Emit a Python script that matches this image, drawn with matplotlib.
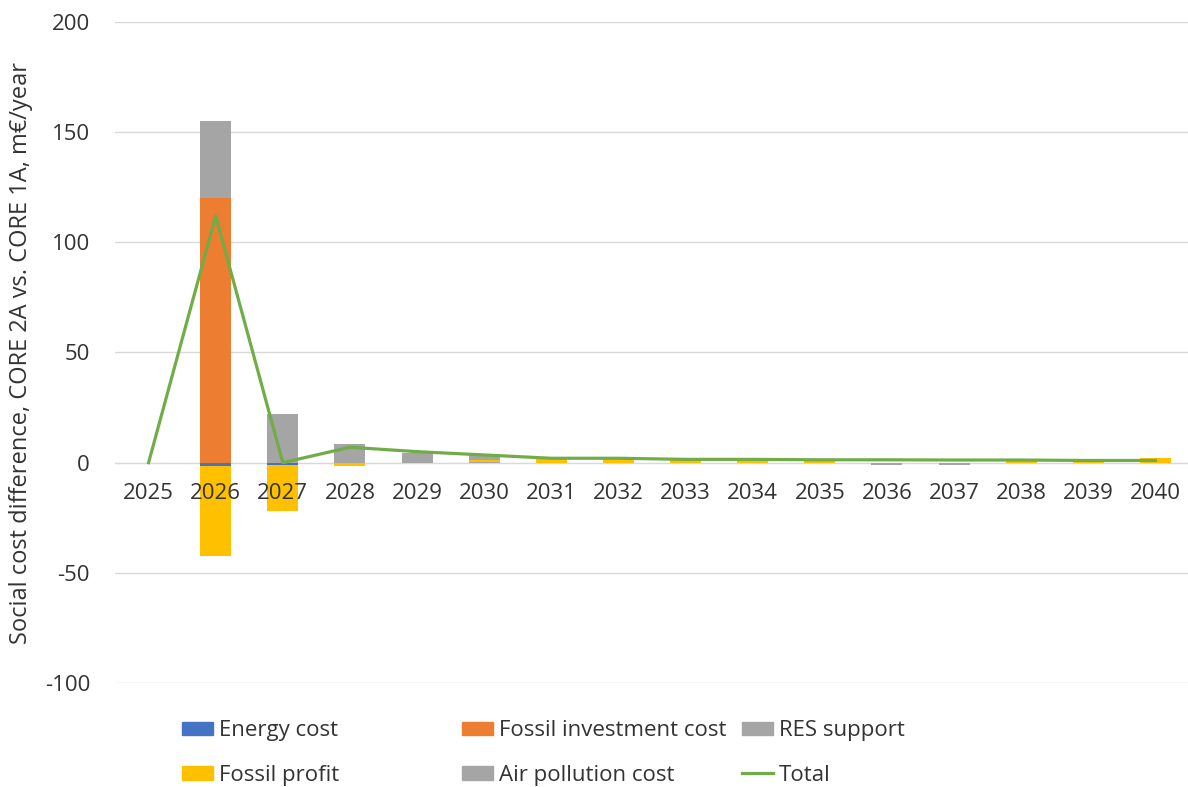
import matplotlib.pyplot as plt
import numpy as np
from matplotlib.patches import Patch
from matplotlib.lines import Line2D

plt.rcParams['font.family'] = ['Open Sans', 'DejaVu Sans']
plt.rcParams['axes.unicode_minus'] = False

years = ['2025', '2026', '2027', '2028', '2029', '2030', '2031', '2032',
         '2033', '2034', '2035', '2036', '2037', '2038', '2039', '2040']

energy_cost = [0, -1.5, -1.0, 0, 0, 0, 0, 0, 0, 0, 0, 0, 0, 0, 0, 0]
fossil_invest = [0, 120, 0, 0, 0, 0, 0, 0, 0, 0, 0, 0, 0, 0, 0, 0]
res_support = [0, 5, 2, 1, 0.5, 0.3, 0, 0, 0, 0, 0, 0, 0, 0, 0, 0]
fossil_profit = [0, -41, -21, -1.5, 0, 0.8, 1.5, 1.5, 1.2, 1.0, 1.0, 0, 0, 0.8, 0.8, 2.0]
air_pollution = [0, 30, 20, 7.5, 4, 2.5, 0, 0, 0, 0, 0, -1.0, -1.0, 0, 0, 0]
total = [0, 112, 0, 7, 5, 3.5, 2, 2, 1.5, 1.5, 1.3, 1.3, 1.2, 1.2, 1.0, 1.0]

series = [
    ('Energy cost', energy_cost, '#4472c4'),
    ('Fossil investment cost', fossil_invest, '#ed7d31'),
    ('RES support', res_support, '#a5a5a5'),
    ('Fossil profit', fossil_profit, '#ffc000'),
    ('Air pollution cost', air_pollution, '#a5a5a5'),
]

fig = plt.figure(figsize=(11.88, 7.87), dpi=100)
ax = fig.add_axes([115 / 1188, (787 - 683) / 787, 1074 / 1188, 661 / 787])

x = np.arange(len(years))
pos_base = np.zeros(len(years))
neg_base = np.zeros(len(years))
for name, vals, col in series:
    v = np.array(vals, dtype=float)
    bottom = np.where(v >= 0, pos_base, neg_base)
    ax.bar(x, v, 0.46, bottom=bottom, color=col, zorder=2)
    pos_base += np.where(v > 0, v, 0)
    neg_base += np.where(v < 0, v, 0)

ax.plot(x, total, color='#70ad47', lw=2.3, zorder=3)

ax.set_xlim(-0.5, len(years) - 0.5)
ax.set_ylim(-100, 200)
ax.set_yticks(np.arange(-100, 201, 50))
ax.grid(axis='y', color='#d9d9d9', lw=1)
ax.set_axisbelow(True)
ax.xaxis.set_zorder(4)  # year labels sit on top of the bars
ax.set_xticks(x)
ax.set_xticklabels(years)

for s in ['top', 'right', 'left']:
    ax.spines[s].set_visible(False)
ax.spines['bottom'].set_position(('data', 0))
ax.spines['bottom'].set_color('#d9d9d9')
ax.spines['bottom'].set_zorder(1)

ax.tick_params(axis='x', length=0, pad=15, labelsize=16, labelcolor='#333333')
ax.tick_params(axis='y', length=0, pad=18, labelsize=16, labelcolor='#333333')

ax.set_ylabel('Social cost difference, CORE 2A vs. CORE 1A, m€/year',
              fontsize=17, color='#333333')
ax.yaxis.set_label_coords(-0.076, 0.5)

# legend laid out as three columns of two entries
columns = [
    [Patch(color='#4472c4', label='Energy cost'),
     Patch(color='#ffc000', label='Fossil profit')],
    [Patch(color='#ed7d31', label='Fossil investment cost'),
     Patch(color='#a5a5a5', label='Air pollution cost')],
    [Patch(color='#a5a5a5', label='RES support'),
     Line2D([], [], color='#70ad47', lw=2.3, label='Total')],
]
for i, hs in enumerate(columns):
    leg = fig.legend(handles=hs, loc='center left',
                     bbox_to_anchor=((182 + 280 * i) / 1188, (787 - 753) / 787),
                     frameon=False, fontsize=16, borderpad=0, borderaxespad=0,
                     handlelength=1.4, handleheight=0.55, handletextpad=0.25,
                     labelspacing=1.05, labelcolor='#333333')

plt.savefig('out.png', dpi=100)
